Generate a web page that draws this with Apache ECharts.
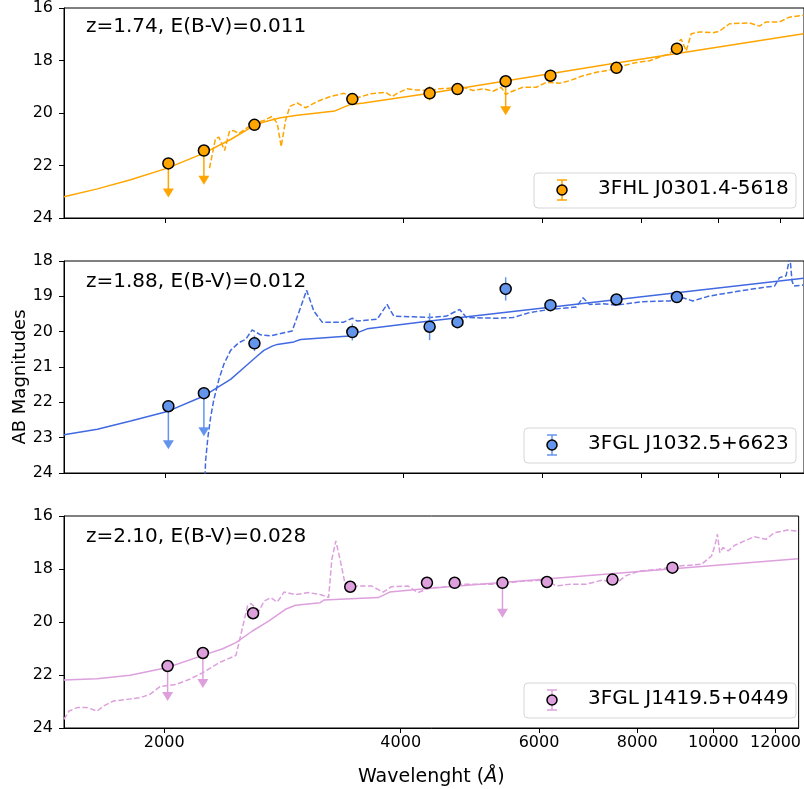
<!DOCTYPE html>
<html>
<head>
<meta charset="utf-8">
<script src="https://cdn.jsdelivr.net/npm/echarts@6/dist/echarts.min.js"></script>
<style>html,body{margin:0;padding:0;background:#fff;}#c{width:804px;height:789px;}</style>
</head>
<body>
<div id="c"></div>
<script>
// ---------------- data ----------------
const xTicks = [2000, 4000, 6000, 8000, 10000, 12000];
const xMin = 1491, xMax = 12840;

const lambdaPhot = [2020, 2240, 2595, 3450, 4320, 4685, 5390, 6140, 7440, 8870];

// Panel 1: 3FHL J0301.4-5618
const mag1 = [21.92, 21.43, 20.45, 19.47, 19.25, 19.09, 18.79, 18.58, 18.28, 17.55];
const err1 = [0, 0, 0.08, 0.12, 0.27, 0.1, 0, 0.08, 0.08, 0.12];
const ul1  = [1, 1, 0, 0, 0, 0, 1, 0, 0, 0];
const arrow1 = 1.3;
const model1Lambda = [1491,1643,1810,2019,2240,2421,2595,2667,2799,2939,3280,3420,3567,4322,7370,12820];
const model1Mag    = [23.19,22.89,22.54,22.09,21.53,21.01,20.47,20.34,20.18,20.09,19.92,19.69,19.62,19.25,18.11,16.98];
const templ1Lambda = [2277,2317,2340,2379,2414,2444,2480,2529,2595,2667,2733,2773,2805,2841,2877,2939,3011,3115,3238,3365,3440,3499,3640,3799,3873,3930,4046,4165,4322,4450,4761,4902,5047,5195,5323,5390,5453,5668,5892,6067,6306,6492,6749,7017,7294,7582,7882,8194,8518,8684,8853,8983,9115,9248,9475,9851,10043,10339,10959,11282,11502,11957,12305,12820];
const templ1Mag    = [22.10,20.97,20.92,21.43,20.68,20.68,20.78,20.60,20.40,20.28,20.13,20.40,21.28,20.28,19.75,19.62,19.80,19.56,19.37,19.25,19.37,19.42,19.27,19.21,19.37,19.25,19.08,19.12,19.14,19.08,19.02,19.14,19.08,19.17,19.02,19.30,19.21,19.02,19.02,18.83,18.87,18.77,18.58,18.45,18.36,18.20,18.08,18.01,17.82,17.76,17.38,17.19,17.64,16.98,16.91,16.94,16.88,16.60,16.57,16.69,16.53,16.53,16.35,16.28];

// Panel 2: 3FGL J1032.5+6623
const mag2 = [22.11, 21.74, 20.33, 20.01, 19.86, 19.73, 18.79, 19.25, 19.09, 19.02];
const err2 = [0, 0, 0.22, 0.24, 0.38, 0.1, 0.33, 0.1, 0.1, 0.1];
const ul2  = [1, 1, 0, 0, 0, 0, 0, 0, 0, 0];
const arrow2 = 1.22;
const model2Lambda = [1491,1643,1810,2019,2240,2421,2516,2616,2667,2733,2773,2910,2967,3420,3602,4322,12820];
const model2Mag    = [22.92,22.76,22.53,22.25,21.82,21.35,21.02,20.69,20.53,20.41,20.36,20.29,20.22,20.12,19.92,19.70,18.49];
const templ2Lambda = [2240,2251,2266,2284,2306,2340,2374,2421,2480,2529,2578,2641,2719,2896,2967,3020,3085,3160,3365,3449,3499,3708,3817,3892,4126,4322,4536,4715,4808,5246,5506,5780,6125,6620,6749,6881,7153,7437,8036,8684,9026,9293,9756,10642,11392,11784,11957,12186,12281,12305,12401,12470,12820];
const templ2Mag    = [25,23.66,23.0,22.43,21.92,21.35,20.92,20.53,20.31,20.22,19.95,20.09,20.12,19.98,19.32,18.83,19.42,19.73,19.73,19.62,19.70,19.65,19.23,19.56,19.58,19.60,19.56,19.37,19.60,19.62,19.60,19.46,19.37,19.30,19.04,19.23,19.21,19.25,19.15,19.13,19.04,19.13,18.99,18.85,18.75,18.71,18.47,18.42,18.05,17.7,18.57,18.71,18.68];

// Panel 3: 3FGL J1419.5+0449
const mag3 = [21.66, 21.17, 19.67, 18.67, 18.52, 18.52, 18.52, 18.49, 18.40, 17.95];
const err3 = [0, 0, 0.08, 0.08, 0.1, 0.08, 0, 0.08, 0.08, 0.1];
const ul3  = [1, 1, 0, 0, 0, 0, 1, 0, 0, 0];
const arrow3 = 1.32;
const model3Lambda = [1491,1643,1810,2019,2240,2374,2468,2590,2719,2853,2939,3160,3193,3745,3873,4322,12820];
const model3Mag    = [22.19,22.14,22.01,21.72,21.26,21.01,20.78,20.34,19.96,19.52,19.37,19.27,19.17,19.08,18.87,18.74,17.61];
const templ3Lambda = [1491,1513,1550,1595,1643,1675,1724,1793,1863,1918,1975,2073,2155,2240,2351,2468,2516,2553,2578,2641,2680,2733,2786,2841,2939,3055,3175,3238,3269,3307,3349,3399,3499,3672,3799,3892,4085,4205,4373,4493,4761,5246,5780,6125,6306,6556,6881,7224,7546,7731,8036,8518,9026,9661,9946,10043,10121,10190,10289,10440,10642,10959,11282,11669,11957,12430,12820];
const templ3Mag    = [23.67,23.36,23.23,23.23,23.36,23.17,22.98,22.92,22.86,22.73,22.44,22.35,22.16,21.91,21.53,21.26,20.21,19.40,19.30,19.58,19.21,19.08,19.25,18.87,18.97,18.89,18.98,19.08,17.64,16.94,17.64,18.58,18.64,18.64,18.87,18.67,18.64,18.89,18.70,18.70,18.58,18.58,18.45,18.42,18.64,18.58,18.58,18.42,18.52,18.26,18.08,18.01,17.89,17.82,17.51,17.13,16.69,17.38,17.19,17.32,17.11,16.94,16.78,16.88,16.63,16.53,16.57];

const names  = ['3FHL J0301.4-5618', '3FGL J1032.5+6623', '3FGL J1419.5+0449'];
const labels = ['z=1.74, E(B-V)=0.011', 'z=1.88, E(B-V)=0.012', 'z=2.10, E(B-V)=0.028'];
const yRanges = [[16, 24, 2], [18, 24, 1], [16, 24, 2]];
const yTitle = 'AB Magnitudes';

// ---------------- build ----------------
const FONT = 'DejaVu Sans';
const L = v => Math.log10(v);
const panels = [
  {mag: mag1, err: err1, ul: ul1, arrow: arrow1, mL: model1Lambda, mM: model1Mag, tL: templ1Lambda, tM: templ1Mag,
   line: '#FFA500', mark: '#FFA500'},
  {mag: mag2, err: err2, ul: ul2, arrow: arrow2, mL: model2Lambda, mM: model2Mag, tL: templ2Lambda, tM: templ2Mag,
   line: '#4169E1', mark: '#6495ED'},
  {mag: mag3, err: err3, ul: ul3, arrow: arrow3, mL: model3Lambda, mM: model3Mag, tL: templ3Lambda, tM: templ3Mag,
   line: '#DDA0DD', mark: '#DDA0DD'}
];
const tops = [6, 261, 516];
const gridH = 212, gridL = 64, gridW = 741;

const grids = [], xAxes = [], yAxes = [], series = [], graphics = [];
panels.forEach((p, i) => {
  grids.push({left: gridL, top: tops[i], width: gridW, height: gridH, show: true,
              borderColor: '#000', borderWidth: 1, backgroundColor: 'transparent'});
  const tickVals = xTicks.map(L);
  xAxes.push({
    type: 'value', gridIndex: i, min: L(xMin), max: L(xMax),
    axisLine: {show: true, onZero: false, lineStyle: {color: '#000', width: 1}},
    axisTick: {show: true, length: 5, lineStyle: {color: '#000', width: 1}, customValues: tickVals},
    axisLabel: {show: i === 2, customValues: tickVals, color: '#000', fontSize: 16, fontFamily: FONT, margin: 7,
                formatter: v => String(Math.round(Math.pow(10, v) / 10) * 10)},
    splitLine: {show: false},
    name: i === 2 ? 'Wavelenght ({i|Å})' : '',
    nameLocation: 'middle', nameGap: 40,
    nameTextStyle: {color: '#000', fontSize: 19, fontFamily: FONT,
                    rich: {i: {fontStyle: 'italic', fontSize: 19, fontFamily: FONT, color: '#000'}}}
  });
  const yr = yRanges[i];
  yAxes.push({
    type: 'value', gridIndex: i, inverse: true, min: yr[0], max: yr[1], interval: yr[2],
    axisLine: {show: true, lineStyle: {color: '#000', width: 1}},
    axisTick: {show: true, length: 5, lineStyle: {color: '#000', width: 1}},
    axisLabel: {color: '#000', fontSize: 16, fontFamily: FONT, margin: 11},
    splitLine: {show: false}
  });
  // model (solid)
  series.push({type: 'line', xAxisIndex: i, yAxisIndex: i, showSymbol: false, symbol: 'none', clip: true,
    data: p.mL.map((l, k) => [L(l), p.mM[k]]), lineStyle: {color: p.line, width: 1.5}, z: 2});
  // template (dashed)
  series.push({type: 'line', xAxisIndex: i, yAxisIndex: i, showSymbol: false, symbol: 'none', clip: true,
    data: p.tL.map((l, k) => [L(l), p.tM[k]]), lineStyle: {color: p.line, width: 1.5, type: [5.5, 2.4]}, z: 2});
  // error bars & upper limit arrows
  const col = p.mark;
  series.push({type: 'custom', xAxisIndex: i, yAxisIndex: i, clip: true, z: 3,
    encode: {x: 0, y: 1},
    data: lambdaPhot.map((l, k) => [L(l), p.mag[k], p.err[k], p.ul[k], p.arrow]),
    renderItem: (params, api) => {
      const x = api.value(0), m = api.value(1), e = api.value(2), ul = api.value(3), len = api.value(4);
      const ch = [];
      if (e > 0) {
        const a = api.coord([x, m - e]), b = api.coord([x, m + e]);
        ch.push({type: 'line', shape: {x1: a[0], y1: a[1], x2: b[0], y2: b[1]}, style: {stroke: col, lineWidth: 1.5}});
      }
      if (ul) {
        const a = api.coord([x, m]), t = api.coord([x, m + len]);
        const h = 9, w = 5.5;
        ch.push({type: 'line', shape: {x1: a[0], y1: a[1], x2: t[0], y2: t[1] - h + 1}, style: {stroke: col, lineWidth: 1.5}});
        ch.push({type: 'polygon', shape: {points: [[t[0] - w, t[1] - h], [t[0] + w, t[1] - h], [t[0], t[1]]]}, style: {fill: col}});
      }
      return {type: 'group', children: ch};
    }
  });
  // photometric points
  series.push({type: 'scatter', xAxisIndex: i, yAxisIndex: i, name: names[i], symbol: 'circle', symbolSize: 11, z: 5,
    data: lambdaPhot.map((l, k) => [L(l), p.mag[k]]),
    itemStyle: {color: col, borderColor: '#000', borderWidth: 1.5, opacity: 1}});

  // annotation text
  graphics.push({type: 'text', left: 86, top: tops[i] + 11, z: 10,
    style: {text: labels[i], font: '20px "DejaVu Sans"', fill: '#000'}});
  // legend box
  const bx = i === 0 ? 534 : 524, by = tops[i] + 167, bw = 796 - bx, bh = 35;
  graphics.push({type: 'rect', z: 10, shape: {x: bx, y: by, width: bw, height: bh, r: 4},
    style: {fill: 'rgba(255,255,255,0.8)', stroke: '#d6d6d6', lineWidth: 1}});
  const ix = bx + 28, iy = by + 17;
  graphics.push({type: 'line', z: 11, shape: {x1: ix, y1: iy - 10, x2: ix, y2: iy + 10}, style: {stroke: col, lineWidth: 1.5}});
  graphics.push({type: 'line', z: 11, shape: {x1: ix - 5, y1: iy - 10, x2: ix + 5, y2: iy - 10}, style: {stroke: col, lineWidth: 1.5}});
  graphics.push({type: 'line', z: 11, shape: {x1: ix - 5, y1: iy + 10, x2: ix + 5, y2: iy + 10}, style: {stroke: col, lineWidth: 1.5}});
  graphics.push({type: 'circle', z: 12, shape: {cx: ix, cy: iy, r: 5}, style: {fill: col, stroke: '#000', lineWidth: 1.5}});
  graphics.push({type: 'text', z: 12, left: bx + 64, top: by + 6,
    style: {text: names[i], font: '20px "DejaVu Sans"', fill: '#000'}});
});
// shared y-axis title
graphics.push({type: 'text', z: 10, x: 20, y: 377, rotation: Math.PI / 2,
  style: {text: yTitle, font: '18px "DejaVu Sans"', fill: '#000', align: 'center', verticalAlign: 'middle'}});

const chart = echarts.init(document.getElementById('c'), null, {renderer: 'canvas'});
chart.setOption({
  animation: false,
  backgroundColor: '#fff',
  grid: grids, xAxis: xAxes, yAxis: yAxes, series: series,
  graphic: graphics
});
</script>
</body>
</html>
